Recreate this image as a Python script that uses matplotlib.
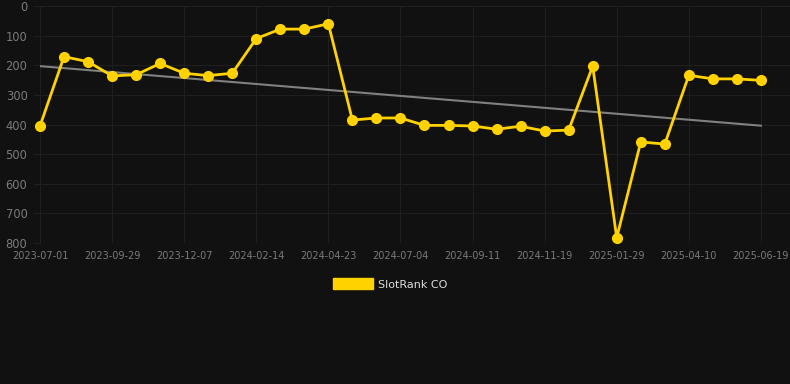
import matplotlib; matplotlib.use("Agg")
import matplotlib.pyplot as plt
import numpy as np
from matplotlib.patches import Patch

BG="#111111"; GRID="#1f1f1f"; TXT="#7a7a7a"; GOLD="#FFD200"; TREND="#808080"

# rank per snapshot (lower = better), ~every 23 days
rank=[405,171,188,236,232,194,227,235,227,110,78,78,60,385,378,378,
      403,403,405,416,406,422,419,203,782,459,466,234,246,246,251]
tick_labels=["2023-07-01","2023-09-29","2023-12-07","2024-02-14","2024-04-23",
             "2024-07-04","2024-09-11","2024-11-19","2025-01-29","2025-04-10","2025-06-19"]
trend_ends=[203,404]   # linear trend at first / last snapshot

W,H=790,384
fig=plt.figure(figsize=(W/100,H/100),dpi=100,facecolor=BG)
ax=fig.add_axes([40/W,(H-243)/H,750/W,237/H],facecolor=BG)
x=np.arange(len(rank))
ax.plot([x[0],x[-1]],trend_ends,color=TREND,lw=1.5,zorder=2)
ax.plot(x,rank,color=GOLD,lw=2.0,marker="o",ms=7,zorder=3,clip_on=False)

ax.set_ylim(800,0); ax.set_xlim(0,750/24.03)
ax.set_yticks(range(0,801,100))
ax.set_xticks(x[::3]); ax.set_xticklabels(tick_labels)
ax.grid(True,color=GRID,lw=0.8)
for s in ax.spines.values(): s.set_visible(False)
ax.tick_params(axis="y",colors=TXT,labelsize=8.3,length=5,color=GRID,pad=4)
ax.tick_params(axis="x",colors=TXT,labelsize=7,length=0,pad=6)

fig.legend(handles=[Patch(color=GOLD,label="SlotRank CO")],loc="center",
           bbox_to_anchor=(390/W,1-284/H),frameon=False,labelcolor="#dddddd",
           fontsize=8,handlelength=3.6,handleheight=1.1,handletextpad=0.5)
fig.savefig("out.png",dpi=100,facecolor=BG)
